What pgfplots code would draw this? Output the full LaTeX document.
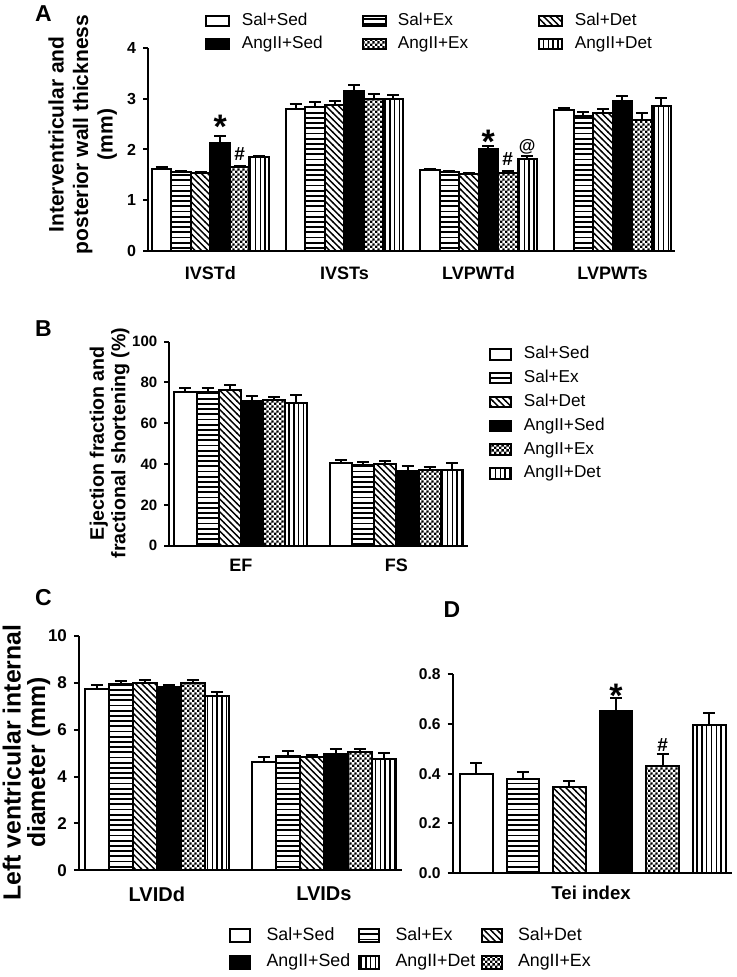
\documentclass[border=0pt]{standalone}
\usepackage{fontspec}
\setmainfont{Liberation Sans}
\usepackage{pgfplots}
\pgfplotsset{compat=1.18}
\usetikzlibrary{patterns}

\pgfdeclarepatternformonly{hl}{\pgfpointorigin}{\pgfqpoint{100pt}{1pt}}{\pgfqpoint{100pt}{2.6pt}}{\pgfsetlinewidth{0.9pt}\pgfpathmoveto{\pgfqpoint{0pt}{0.5pt}}\pgfpathlineto{\pgfqpoint{100pt}{0.5pt}}\pgfusepath{stroke}}
\pgfdeclarepatternformonly{vl}{\pgfpointorigin}{\pgfqpoint{1pt}{100pt}}{\pgfqpoint{2.4pt}{100pt}}{\pgfsetlinewidth{0.7pt}\pgfpathmoveto{\pgfqpoint{0.5pt}{0pt}}\pgfpathlineto{\pgfqpoint{0.5pt}{100pt}}\pgfusepath{stroke}}
\pgfdeclarepatternformonly{dl}{\pgfqpoint{-1pt}{-1pt}}{\pgfqpoint{4.2pt}{4.2pt}}{\pgfqpoint{3.2pt}{3.2pt}}{\pgfsetlinewidth{0.7pt}\pgfpathmoveto{\pgfqpoint{-0.2pt}{3.4pt}}\pgfpathlineto{\pgfqpoint{3.4pt}{-0.2pt}}\pgfusepath{stroke}}
\pgfdeclarepatternformonly{ck}{\pgfpointorigin}{\pgfqpoint{2.4pt}{2.4pt}}{\pgfqpoint{2.4pt}{2.4pt}}{\pgfpathrectangle{\pgfpointorigin}{\pgfqpoint{1.2pt}{1.2pt}}\pgfpathrectangle{\pgfqpoint{1.2pt}{1.2pt}}{\pgfqpoint{1.2pt}{1.2pt}}\pgfusepath{fill}}

\pgfplotsset{
  panel/.style={
    scale only axis, anchor=south west, ybar, clip=false,
    axis x line*=bottom, axis y line*=left,
    axis line style={line width=1pt, black},
    xtick style={draw=none},
    ytick style={line width=1pt, black},
    tick align=outside, major tick length=2.5pt,
    /pgf/number format/assume math mode=true,
    yticklabel style={font=\fontsize{8}{9}\selectfont\bfseries},
    xticklabel style={font=\fontsize{9}{10}\selectfont\bfseries},
    ylabel style={align=center, anchor=center},
    every axis plot post/.append style={line width=1pt, draw=black,
       error bars/.cd, y dir=plus, y explicit,
       error bar style={line width=1pt, black, solid},
       error mark options={rotate=90, mark size=3pt, line width=1pt, black, solid}},
    legend style={draw=none, fill=none, inner sep=0pt, outer sep=0pt, column sep=0pt,
       cells={anchor=west}, nodes={inner sep=0pt}},
  },
  sSS/.style={fill=white},
  sSE/.style={pattern=hl},
  sSD/.style={pattern=dl},
  sAS/.style={fill=black},
  sAE/.style={pattern=ck},
  sAD/.style={pattern=vl},
}
\tikzset{sigstar/.style={anchor=north, inner sep=0pt, font=\fontsize{17}{17}\selectfont\bfseries},
  sighash/.style={anchor=base, inner sep=0pt, font=\fontsize{9.5}{9}\selectfont\bfseries}}

\begin{document}
\begin{tikzpicture}
\useasboundingbox (0,0) rectangle (368pt,488.5pt);

\node[font=\fontsize{11.5}{12}\selectfont\bfseries] at (21.75pt,481.5pt) {A};
\node[font=\fontsize{11.5}{12}\selectfont\bfseries] at (21.75pt,324pt) {B};
\node[font=\fontsize{11.5}{12}\selectfont\bfseries] at (21.75pt,189.75pt) {C};
\node[font=\fontsize{11.5}{12}\selectfont\bfseries] at (226pt,183.5pt) {D};

% ---------------- Panel A
\begin{axis}[panel,
  at={(74pt,363pt)}, width=263.5pt, height=101.5pt,
  bar width=0.1455, xmin=-0.466, xmax=3.466, ymin=0, ymax=4,
  xtick={0,1,2,3}, xticklabels={IVSTd,IVSTs,LVPWTd,LVPWTs},
  ytick={0,1,2,3,4},
  ylabel={Interventricular and\\posterior wall thickness\\(mm)},
  ylabel style={at={(axis description cs:-0.124,0.574)}, font=\fontsize{10.5}{12.25}\selectfont\bfseries},
  xticklabel style={anchor=center, yshift=-8.5pt},
  legend columns=3,
  legend style={at={(0.108,1.174)}, anchor=north west, row sep=3.4pt, font=\fontsize{8.6}{9}\selectfont,
     nodes={text height=6.3pt, text depth=1.8pt}},
  legend image code/.code={\draw[#1,line width=1pt] (0pt,-2.5pt) rectangle (11.5pt,2.5pt);},
]
\addplot[sSS, bar shift=-0.36375] coordinates {(0,1.62)+-(0,0.03) (1,2.80)+-(0,0.10) (2,1.60)+-(0,0.02) (3,2.77)+-(0,0.05)};
\addlegendentry{\hspace{6pt}\makebox[60pt][l]{Sal+Sed}}
\addplot[sSE, bar shift=-0.21825] coordinates {(0,1.55)+-(0,0.02) (1,2.83)+-(0,0.11) (2,1.56)+-(0,0.02) (3,2.66)+-(0,0.07)};
\addlegendentry{\hspace{5.5pt}\makebox[70pt][l]{Sal+Ex}}
\addplot[sSD, bar shift=-0.07275] coordinates {(0,1.54)+-(0,0.02) (1,2.88)+-(0,0.07) (2,1.51)+-(0,0.02) (3,2.71)+-(0,0.08)};
\addlegendentry{\hspace{6pt}Sal+Det}
\addplot[sAS, bar shift=0.07275] coordinates {(0,2.13)+-(0,0.13) (1,3.15)+-(0,0.12) (2,2.00)+-(0,0.07) (3,2.95)+-(0,0.11)};
\addlegendentry{\hspace{6pt}\makebox[60pt][l]{AngII+Sed}}
\addplot[sAE, bar shift=0.21825] coordinates {(0,1.65)+-(0,0.03) (1,3.00)+-(0,0.09) (2,1.54)+-(0,0.03) (3,2.58)+-(0,0.13)};
\addlegendentry{\hspace{5.5pt}\makebox[70pt][l]{AngII+Ex}}
\addplot[sAD, bar shift=0.36375] coordinates {(0,1.85)+-(0,0.03) (1,2.99)+-(0,0.09) (2,1.82)+-(0,0.05) (3,2.86)+-(0,0.15)};
\addlegendentry{\hspace{6pt}AngII+Det}
\node[sigstar] at (axis cs:0.07275,2.68) {*};
\node[sighash] at (axis cs:0.21825,1.78) {\#};
\node[sigstar] at (axis cs:2.07275,2.38) {*};
\node[sighash] at (axis cs:2.21825,1.69) {\#};
\node[anchor=base, inner sep=0pt, font=\fontsize{8.5}{8}\selectfont\bfseries] at (axis cs:2.36375,1.97) {@};
\end{axis}

% ---------------- Panel B
\begin{axis}[panel,
  at={(84.65pt,215.65pt)}, width=149.35pt, height=102pt,
  bar width=0.1424, xmin=-0.46, xmax=1.46, ymin=0, ymax=100,
  xtick={0,1}, xticklabels={EF,FS},
  ytick={0,20,40,60,80,100},
  yticklabel style={font=\fontsize{7.5}{8}\selectfont\bfseries},
  ylabel={Ejection fraction and\\fractional shortening (\%)},
  ylabel style={at={(axis description cs:-0.2,0.503)}, font=\fontsize{9.8}{10.75}\selectfont\bfseries},
  xticklabel style={anchor=center, yshift=-7.5pt},
  legend style={at={(1.071,0.977)}, anchor=north west, row sep=3.8pt, font=\fontsize{8.6}{9}\selectfont,
     nodes={text height=6.3pt, text depth=1.8pt}},
  legend image code/.code={\draw[#1,line width=1pt] (0pt,-2.6pt) rectangle (10.5pt,2.6pt);},
]
\addplot[sSS, bar shift=-0.356] coordinates {(0,75.3)+-(0,2.0) (1,40.5)+-(0,1.4)};
\addlegendentry{\hspace{5.8pt}Sal+Sed}
\addplot[sSE, bar shift=-0.2136] coordinates {(0,75.3)+-(0,2.2) (1,39.4)+-(0,1.5)};
\addlegendentry{\hspace{5.8pt}Sal+Ex}
\addplot[sSD, bar shift=-0.0712] coordinates {(0,76.5)+-(0,2.5) (1,40.2)+-(0,1.4)};
\addlegendentry{\hspace{5.8pt}Sal+Det}
\addplot[sAS, bar shift=0.0712] coordinates {(0,71.0)+-(0,2.5) (1,36.8)+-(0,2.3)};
\addlegendentry{\hspace{5.8pt}AngII+Sed}
\addplot[sAE, bar shift=0.2136] coordinates {(0,71.5)+-(0,1.2) (1,37.0)+-(0,1.6)};
\addlegendentry{\hspace{5.8pt}AngII+Ex}
\addplot[sAD, bar shift=0.356] coordinates {(0,70.0)+-(0,3.7) (1,37.3)+-(0,3.0)};
\addlegendentry{\hspace{5.8pt}AngII+Det}
\end{axis}

% ---------------- Panel C
\begin{axis}[panel,
  at={(39.5pt,53.35pt)}, width=161.35pt, height=117.15pt,
  bar width=0.1437, xmin=-0.466, xmax=1.466, ymin=0, ymax=10,
  xtick={0,1}, xticklabels={LVIDd,LVIDs},
  ytick={0,2,4,6,8,10},
  yticklabel style={font=\fontsize{8.5}{9}\selectfont\bfseries},
  ylabel={Left ventricular internal\\diameter (mm)},
  ylabel style={at={(axis description cs:-0.163,0.46)}, font=\fontsize{12.4}{12.2}\selectfont\bfseries},
  xticklabel style={anchor=center, yshift=-9.35pt, font=\fontsize{10}{11}\selectfont\bfseries},
]
\addplot[sSS, bar shift=-0.35925] coordinates {(0,7.74)+-(0,0.17) (1,4.64)+-(0,0.18)};
\addplot[sSE, bar shift=-0.21555] coordinates {(0,7.95)+-(0,0.15) (1,4.88)+-(0,0.20)};
\addplot[sSD, bar shift=-0.07185] coordinates {(0,8.00)+-(0,0.12) (1,4.83)+-(0,0.08)};
\addplot[sAS, bar shift=0.07185] coordinates {(0,7.82)+-(0,0.07) (1,4.96)+-(0,0.23)};
\addplot[sAE, bar shift=0.21555] coordinates {(0,7.98)+-(0,0.15) (1,5.04)+-(0,0.14)};
\addplot[sAD, bar shift=0.35925] coordinates {(0,7.42)+-(0,0.17) (1,4.76)+-(0,0.26)};
\end{axis}

% ---------------- Panel D
\begin{axis}[panel,
  at={(226.35pt,52pt)}, width=139.5pt, height=99.35pt,
  bar width=0.70, xmin=-0.504, xmax=5.48, ymin=0, ymax=0.8,
  xtick=\empty,
  ytick={0,0.2,0.4,0.6,0.8},
  yticklabel style={font=\fontsize{7.8}{8}\selectfont\bfseries, /pgf/number format/.cd, fixed, fixed zerofill, precision=1},
  xlabel={Tei index},
  xlabel style={at={(axis description cs:0.496,-0.1007)}, anchor=center, font=\fontsize{9.3}{11}\selectfont\bfseries},
  legend columns=3,
  legend style={at={(-0.801,-0.273)}, anchor=north west, row sep=4.65pt, font=\fontsize{8.9}{9.5}\selectfont,
     nodes={text height=6.6pt, text depth=1.9pt}},
  legend image code/.code={\draw[#1,line width=1pt] (0pt,-3.25pt) rectangle (10pt,3.25pt);},
]
\addplot[sSS, bar shift=0pt, forget plot] coordinates {(0,0.397)+-(0,0.044)};
\addplot[sSE, bar shift=0pt, forget plot] coordinates {(1,0.377)+-(0,0.028)};
\addplot[sSD, bar shift=0pt, forget plot] coordinates {(2,0.345)+-(0,0.024)};
\addplot[sAS, bar shift=0pt, forget plot] coordinates {(3,0.654)+-(0,0.050)};
\addplot[sAE, bar shift=0pt, forget plot] coordinates {(4,0.431)+-(0,0.050)};
\addplot[sAD, bar shift=0pt, forget plot] coordinates {(5,0.597)+-(0,0.046)};
\node[sigstar] at (axis cs:3,0.763) {*};
\node[sighash] at (axis cs:4,0.491) {\#};
\addlegendimage{sSS, line width=1pt, draw=black}
\addlegendentry{\hspace{7.7pt}\makebox[45.8pt][l]{Sal+Sed}}
\addlegendimage{sSE, line width=1pt, draw=black}
\addlegendentry{\hspace{7.7pt}\makebox[42.5pt][l]{Sal+Ex}}
\addlegendimage{sSD, line width=1pt, draw=black}
\addlegendentry{\hspace{7.7pt}Sal+Det}
\addlegendimage{sAS, line width=1pt, draw=black}
\addlegendentry{\hspace{7.7pt}\makebox[45.8pt][l]{AngII+Sed}}
\addlegendimage{sAD, line width=1pt, draw=black}
\addlegendentry{\hspace{7.7pt}\makebox[42.5pt][l]{AngII+Det}}
\addlegendimage{sAE, line width=1pt, draw=black}
\addlegendentry{\hspace{7.7pt}AngII+Ex}
\end{axis}
\end{tikzpicture}
\end{document}
